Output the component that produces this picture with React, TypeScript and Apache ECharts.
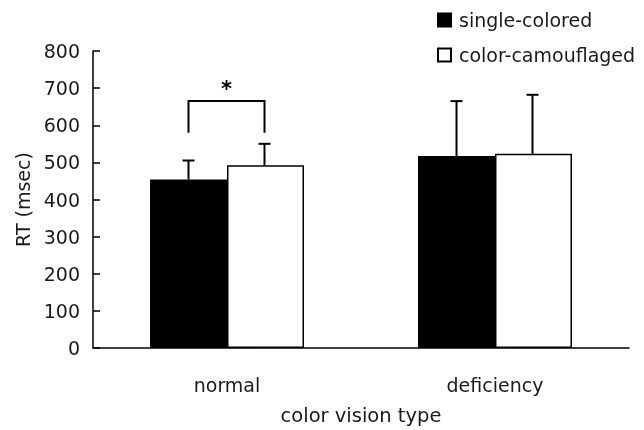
import React, { useEffect, useRef } from "react";
import * as echarts from "echarts";

const categories = ["normal", "deficiency"];
const seriesNames = ["single-colored", "color-camouflaged"];
const singleMeans = [454, 517];
const singleErrTop = [505, 665];
const camoMeans = [492, 523];
const camoErrTop = [550, 682];
const yTicks = { min: 0, max: 800, interval: 100 };
const sigBracket = [0, 580, 665]; // category index, low, high
const sigLabel = "*";

const FONT = "DejaVu Sans";
const TXT = "#1a1a1a";
const BAR_W = 77;

function errorRender(offset: number) {
  return (params: any, api: any) => {
    const cat = api.value(0);
    const base = api.coord([cat, api.value(1)]);
    const top = api.coord([cat, api.value(2)]);
    const x = base[0] + offset;
    const st = { stroke: "#000", lineWidth: 2 };
    return {
      type: "group",
      children: [
        { type: "line", shape: { x1: x, y1: base[1], x2: x, y2: top[1] }, style: st },
        { type: "line", shape: { x1: x - 6, y1: top[1], x2: x + 6, y2: top[1] }, style: st },
      ],
    };
  };
}

export default function App() {
  const ref = useRef<HTMLDivElement>(null);
  useEffect(() => {
    if (!ref.current) return;
    const chart = echarts.init(ref.current, null, { renderer: "svg" });
    chart.setOption({
      animation: false,
      textStyle: { fontFamily: FONT },
      grid: { left: 93, right: 15, top: 51, bottom: 73 },
      legend: {
        data: seriesNames,
        orient: "vertical",
        left: 432,
        top: 4,
        icon: "rect",
        itemWidth: 13,
        itemHeight: 13,
        itemGap: 13,
        textStyle: { fontFamily: FONT, fontSize: 19, color: TXT, lineHeight: 22, padding: [0, 0, 0, 3] },
      },
      xAxis: {
        type: "category",
        data: categories,
        axisLine: { lineStyle: { color: "#000", width: 1.5 } },
        axisTick: { inside: true, length: 5, lineStyle: { color: "#000", width: 1.5 } },
        axisLabel: { fontFamily: FONT, fontSize: 19, color: TXT, margin: 27 },
        name: "color vision type",
        nameLocation: "middle",
        nameGap: 57,
        nameTextStyle: { fontFamily: FONT, fontSize: 19.5, color: TXT },
      },
      yAxis: {
        type: "value",
        min: yTicks.min,
        max: yTicks.max,
        interval: yTicks.interval,
        axisLine: { show: true, lineStyle: { color: "#000", width: 1.5 } },
        axisTick: { show: true, inside: true, length: 7, lineStyle: { color: "#000", width: 1.5 } },
        splitLine: { show: false },
        axisLabel: { fontFamily: FONT, fontSize: 19, color: TXT, margin: 13 },
        name: "RT (msec)",
        nameLocation: "middle",
        nameGap: 61,
        nameTextStyle: { fontFamily: FONT, fontSize: 19, color: TXT },
      },
      series: [
        {
          name: seriesNames[0],
          type: "bar",
          data: singleMeans,
          barWidth: BAR_W,
          barGap: "0%",
          itemStyle: { color: "#000", borderColor: "#000", borderWidth: 1.5 },
        },
        {
          name: seriesNames[1],
          type: "bar",
          data: camoMeans,
          barWidth: BAR_W,
          barGap: "0%",
          itemStyle: { color: "#fff", borderColor: "#000", borderWidth: 1.5 },
        },
        {
          type: "custom",
          name: "err1",
          z: 5,
          data: categories.map((_, i) => [i, singleMeans[i], singleErrTop[i]]),
          encode: { x: 0, y: [1, 2] },
          renderItem: errorRender(-BAR_W / 2),
        },
        {
          type: "custom",
          name: "err2",
          z: 5,
          data: categories.map((_, i) => [i, camoMeans[i], camoErrTop[i]]),
          encode: { x: 0, y: [1, 2] },
          renderItem: errorRender(BAR_W / 2 - 1),
        },
        {
          type: "custom",
          name: "sig",
          z: 5,
          data: [sigBracket],
          encode: { x: 0, y: [1, 2] },
          renderItem: (params: any, api: any) => {
            const cat = api.value(0);
            const lo = api.coord([cat, api.value(1)]);
            const hi = api.coord([cat, api.value(2)]);
            const xl = lo[0] - BAR_W / 2;
            const xr = lo[0] + BAR_W / 2 - 1;
            return {
              type: "group",
              children: [
                {
                  type: "polyline",
                  shape: { points: [[xl, lo[1]], [xl, hi[1]], [xr, hi[1]], [xr, lo[1]]] },
                  style: { stroke: "#000", lineWidth: 2, fill: "none" },
                },
                {
                  type: "text",
                  x: (xl + xr) / 2,
                  y: hi[1] - 12,
                  style: {
                    text: sigLabel,
                    fontFamily: FONT,
                    fontSize: 21,
                    fontWeight: "bold",
                    fill: "#000",
                    align: "center",
                    verticalAlign: "middle",
                  },
                },
              ],
            };
          },
        },
      ],
    });
    return () => chart.dispose();
  }, []);
  return <div ref={ref} style={{ position: "fixed", left: 0, top: 0, width: 644, height: 430 }} />;
}
